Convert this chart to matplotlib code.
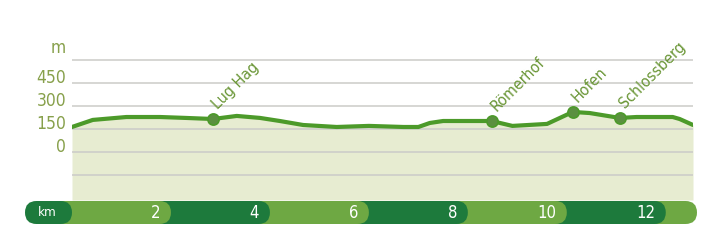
import matplotlib
matplotlib.use("Agg")
import matplotlib.pyplot as plt
from matplotlib import font_manager
from matplotlib.patches import FancyBboxPatch

# elevation profile (km, m)
dist_km = [0.0, 0.42, 1.1, 1.78, 2.3, 2.85, 3.33, 3.8, 4.2, 4.67, 5.35, 6.0, 6.7,
           7.0, 7.23, 7.5, 8.04, 8.48, 8.9, 9.6, 9.86, 10.12, 10.46, 11.07, 11.41,
           12.14, 12.28, 12.55]
elev_m = [163, 209, 228, 228, 222, 215, 235, 222, 202, 176, 163, 170, 163,
          163, 189, 202, 202, 202, 170, 183, 222, 261, 254, 222, 228,
          228, 215, 176]

# waypoints
poi_names = ["Lug Hag", "Römerhof", "Hofen", "Schlossberg"]
poi_km = [2.85, 8.48, 10.12, 11.07]
poi_m = [215, 202, 261, 222]

grid_m = [600, 450, 300, 150, 0, -150]
tick_m = [450, 300, 150, 0]
km_marks = [2, 4, 6, 8, 10, 12]

names = {f.name for f in font_manager.fontManager.ttflist}
font = "Liberation Sans Narrow" if "Liberation Sans Narrow" in names else "DejaVu Sans"
plt.rcParams["font.family"] = font
plt.rcParams["font.stretch"] = "condensed"

line_col = "#4c9a2a"
text_col = "#87a04b"
dark = "#1d7a3c"
light = "#6ea843"

W, H = 701, 240
fig = plt.figure(figsize=(W / 100, H / 100), dpi=100)

# main profile axes, pixel box x 72..693, y 40..200
x0, x1, y0, y1 = 72, 693, 40, 200
ax = fig.add_axes([x0 / W, 1 - y1 / H, (x1 - x0) / W, (y1 - y0) / H])
ax.set_xlim(0, 12.55)
ax.set_ylim(-313, 730)
ax.axis("off")

ax.fill_between(dist_km, elev_m, -313, color="#e7ecd1", lw=0, zorder=1)
for g in grid_m:
    ax.axhline(g, color="#cbcbc8", lw=1.1, zorder=2)
ax.plot(dist_km, elev_m, color=line_col, lw=3, solid_capstyle="round",
        solid_joinstyle="round", zorder=3)
ax.scatter(poi_km, poi_m, s=65, color="#5b9040", edgecolor=line_col,
           linewidth=1.2, zorder=4)
for name, xk, ym in zip(poi_names, poi_km, poi_m):
    ax.annotate(name, (xk, ym), xytext=(5, 5), textcoords="offset points",
                rotation=45, rotation_mode="anchor", ha="left", va="bottom",
                color="#6a9636", fontsize=11.5,
                annotation_clip=False, zorder=5)

for t in tick_m:
    ax.text(-0.12, t + 35, str(t), ha="right", va="center", color=text_col,
            fontsize=12.5, clip_on=False)
ax.text(-0.12, 678, "m", ha="right", va="center", color=text_col,
        fontsize=12.5, clip_on=False)

# km bar, pixel box x 25..697, y 201..224
bx0, bx1, by0, by1 = 25, 697, 201, 224
px_per_km = (x1 - x0) / 12.55
k_left = -(x0 - bx0) / px_per_km
k_right = 12.55 + (bx1 - x1) / px_per_km
bh = (by1 - by0) / px_per_km
bax = fig.add_axes([bx0 / W, 1 - by1 / H, (bx1 - bx0) / W, (by1 - by0) / H])
bax.set_xlim(k_left, k_right)
bax.set_ylim(0, bh)
bax.axis("off")

r = bh / 2
segs = [(k_left, 0, dark)]
for i, k in enumerate(km_marks):
    segs.append((k - 2, k, light if i % 2 == 0 else dark))
segs.append((km_marks[-1], k_right, light))
for s, e, c in reversed(segs):
    start = s - 2 * r if s > k_left else s
    bax.add_patch(FancyBboxPatch((start, 0), e - start, bh,
                                 boxstyle=f"round,pad=0,rounding_size={r}",
                                 facecolor=c, edgecolor="none",
                                 mutation_aspect=1))
bax.text(k_left + 0.45, bh / 2, "km", ha="center", va="center", color="white",
         fontsize=9.5)
for k in km_marks:
    bax.text(k - 0.22, bh / 2, str(k), ha="right", va="center", color="white",
             fontsize=12)

fig.savefig("out.png", dpi=100)
